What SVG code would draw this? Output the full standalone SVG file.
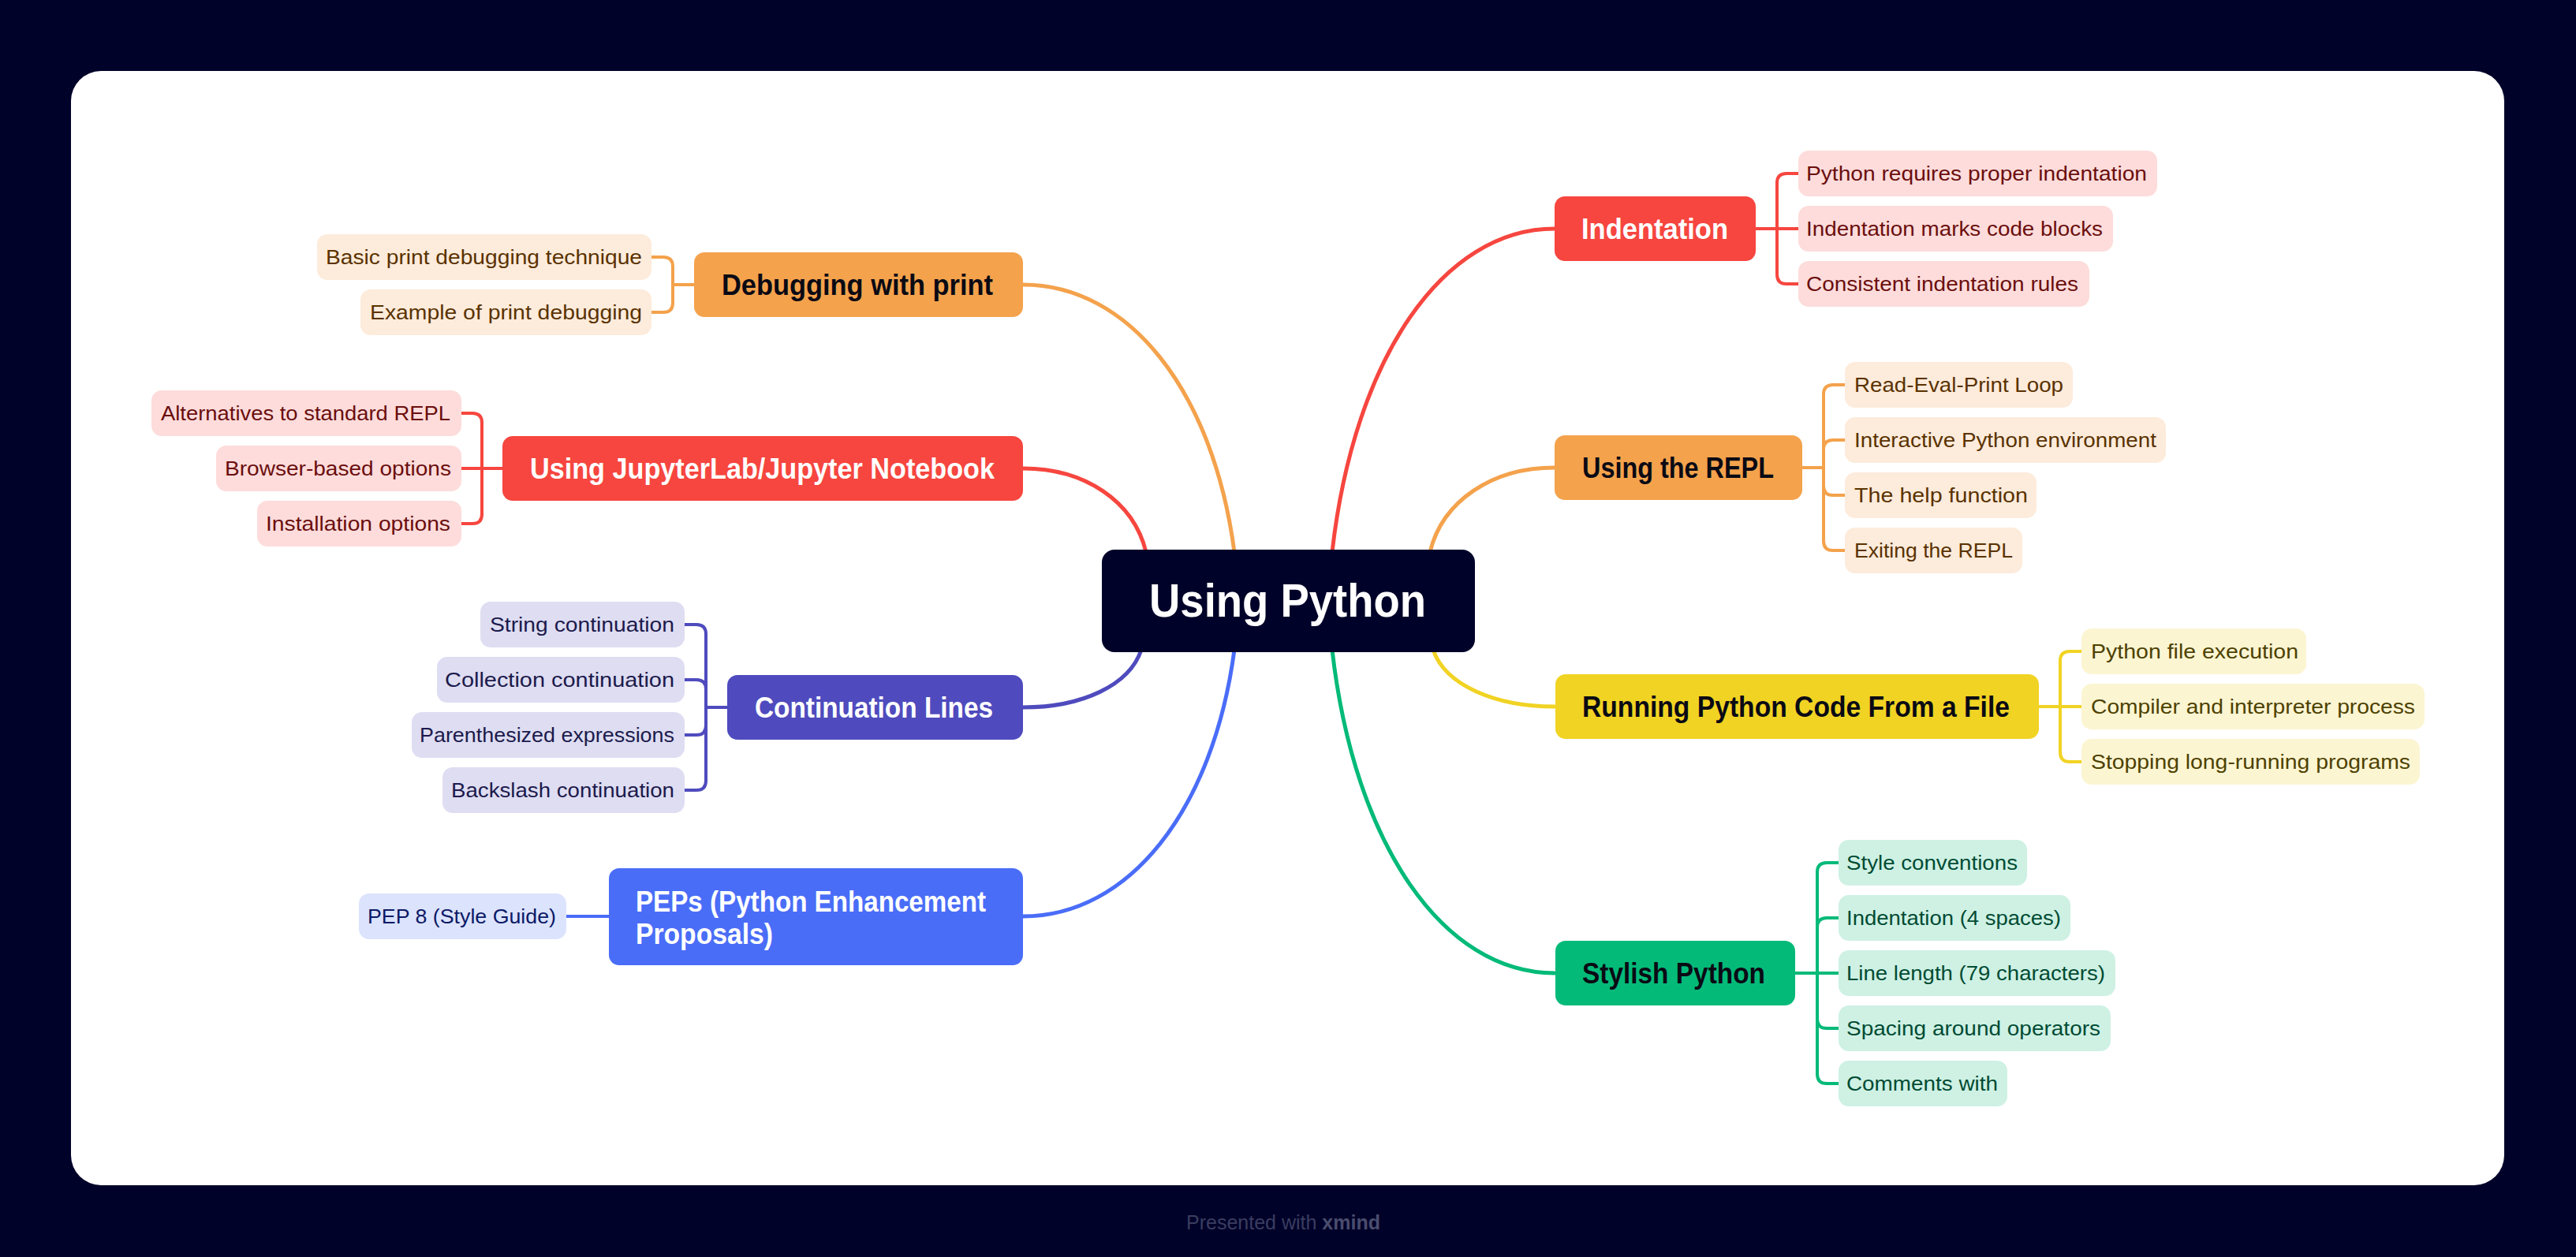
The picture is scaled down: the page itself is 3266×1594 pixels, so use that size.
<svg xmlns="http://www.w3.org/2000/svg" width="3266" height="1594" viewBox="0 0 3266 1594">
<style>
text{font-family:"Liberation Sans",Arial,sans-serif}
.sub{font-size:26px}
.main{font-size:37px;font-weight:700}
.center{font-size:59px;font-weight:700;fill:#fff}
.curve{fill:none;stroke-width:5;stroke-linecap:round}
.br{fill:none;stroke-width:4;stroke-linejoin:round}
.or{stroke:#F4A24C}.rd{stroke:#F6463F}.pu{stroke:#4F4BBE}.bl{stroke:#4A6DF8}.ye{stroke:#F1D323}.gr{stroke:#04BA79}
.s-or rect{fill:#FDEBDB}.s-or text{fill:#5A3200}
.s-rd rect{fill:#FDDCDB}.s-rd text{fill:#6B0E0E}
.s-pu rect{fill:#DEDDF2}.s-pu text{fill:#1C1A4C}
.s-bl rect{fill:#DCE3FD}.s-bl text{fill:#0B1A66}
.s-ye rect{fill:#FCF5D2}.s-ye text{fill:#4D4100}
.s-gr rect{fill:#CEF1E4}.s-gr text{fill:#004B33}
.m-or rect{fill:#F4A24C}.m-rd rect{fill:#F6463F}.m-pu rect{fill:#4F4BBE}.m-bl rect{fill:#4A6DF8}.m-ye rect{fill:#F1D323}.m-gr rect{fill:#04BA79}
.dk{fill:#0A0A14}.wh{fill:#FFFFFF}
</style>
<rect x="0" y="0" width="3266" height="1594" fill="#000229"/>
<rect x="90" y="90" width="3085" height="1413" rx="38" fill="#FFFFFF"/>

<g id="connectors">
  <path class="curve or" d="M1565 700 C1538 495 1431 361 1297 361"/>
  <path class="curve rd" d="M1453 700 C1437 635 1375 594 1297 594"/>
  <path class="curve rd" d="M1689 700 C1717 453 1830 290 1971 290"/>
  <path class="curve or" d="M1813 700 C1829 635 1892 593 1971 593"/>
  <path class="curve pu" d="M1447 824 C1432 869 1372 897 1297 897"/>
  <path class="curve bl" d="M1565 824 C1538 1028 1431 1162 1297 1162"/>
  <path class="curve gr" d="M1689 824 C1717 1071 1830 1234 1971 1234"/>
  <path class="curve ye" d="M1817 824 C1832 868 1894 896 1971 896"/>

  <!-- Debugging bracket -->
  <path class="br or" d="M880 361 H853 V338 Q853 326 841 326 H826"/>
  <path class="br or" d="M880 361 H853 V384 Q853 396 841 396 H826"/>
  <!-- Jupyter bracket -->
  <path class="br rd" d="M637 594 H611 V536 Q611 524 599 524 H585"/>
  <path class="br rd" d="M637 594 H585"/>
  <path class="br rd" d="M637 594 H611 V652 Q611 664 599 664 H585"/>
  <!-- Continuation bracket -->
  <path class="br pu" d="M922 897 H895 V804 Q895 792 883 792 H868"/>
  <path class="br pu" d="M922 897 H895 V874 Q895 862 883 862 H868"/>
  <path class="br pu" d="M922 897 H895 V920 Q895 932 883 932 H868"/>
  <path class="br pu" d="M922 897 H895 V990 Q895 1002 883 1002 H868"/>
  <!-- PEPs -->
  <path class="br bl" d="M772 1162 H718"/>
  <!-- Indentation bracket -->
  <path class="br rd" d="M2226 290 H2253 V232 Q2253 220 2265 220 H2280"/>
  <path class="br rd" d="M2226 290 H2280"/>
  <path class="br rd" d="M2226 290 H2253 V348 Q2253 360 2265 360 H2280"/>
  <!-- REPL bracket -->
  <path class="br or" d="M2285 593 H2312 V500 Q2312 488 2324 488 H2339"/>
  <path class="br or" d="M2285 593 H2312 V570 Q2312 558 2324 558 H2339"/>
  <path class="br or" d="M2285 593 H2312 V616 Q2312 628 2324 628 H2339"/>
  <path class="br or" d="M2285 593 H2312 V686 Q2312 698 2324 698 H2339"/>
  <!-- Running bracket -->
  <path class="br ye" d="M2585 896 H2612 V838 Q2612 826 2624 826 H2639"/>
  <path class="br ye" d="M2585 896 H2639"/>
  <path class="br ye" d="M2585 896 H2612 V954 Q2612 966 2624 966 H2639"/>
  <!-- Stylish bracket -->
  <path class="br gr" d="M2276 1234 H2304 V1106 Q2304 1094 2316 1094 H2331"/>
  <path class="br gr" d="M2276 1234 H2304 V1176 Q2304 1164 2316 1164 H2331"/>
  <path class="br gr" d="M2276 1234 H2331"/>
  <path class="br gr" d="M2276 1234 H2304 V1292 Q2304 1304 2316 1304 H2331"/>
  <path class="br gr" d="M2276 1234 H2304 V1362 Q2304 1374 2316 1374 H2331"/>
</g>

<g id="central">
  <rect x="1397" y="697" width="473" height="130" rx="16" fill="#000229"/>
  <text class="center" x="1457" y="782" textLength="351" lengthAdjust="spacingAndGlyphs">Using Python</text>
</g>

<!-- Main topics -->
<g id="debugging" class="m-or">
  <rect x="880" y="320" width="417" height="82" rx="13"/>
  <text class="main dk" x="915" y="374" textLength="344" lengthAdjust="spacingAndGlyphs">Debugging with print</text>
</g>
<g id="jupyter" class="m-rd">
  <rect x="637" y="553" width="660" height="82" rx="13"/>
  <text class="main wh" x="672" y="607" textLength="589" lengthAdjust="spacingAndGlyphs">Using JupyterLab/Jupyter Notebook</text>
</g>
<g id="continuation" class="m-pu">
  <rect x="922" y="856" width="375" height="82" rx="13"/>
  <text class="main wh" x="957" y="910" textLength="302" lengthAdjust="spacingAndGlyphs">Continuation Lines</text>
</g>
<g id="peps" class="m-bl">
  <rect x="772" y="1101" width="525" height="123" rx="13"/>
  <text class="main wh" x="806" y="1156" textLength="444" lengthAdjust="spacingAndGlyphs">PEPs (Python Enhancement</text>
  <text class="main wh" x="806" y="1197" textLength="174" lengthAdjust="spacingAndGlyphs">Proposals)</text>
</g>
<g id="indentation" class="m-rd">
  <rect x="1971" y="249" width="255" height="82" rx="13"/>
  <text class="main wh" x="2005" y="303" textLength="186" lengthAdjust="spacingAndGlyphs">Indentation</text>
</g>
<g id="repl" class="m-or">
  <rect x="1971" y="552" width="314" height="82" rx="13"/>
  <text class="main dk" x="2006" y="606" textLength="243" lengthAdjust="spacingAndGlyphs">Using the REPL</text>
</g>
<g id="running" class="m-ye">
  <rect x="1972" y="855" width="613" height="82" rx="13"/>
  <text class="main dk" x="2006" y="909" textLength="542" lengthAdjust="spacingAndGlyphs">Running Python Code From a File</text>
</g>
<g id="stylish" class="m-gr">
  <rect x="1972" y="1193" width="304" height="82" rx="13"/>
  <text class="main dk" x="2006" y="1247" textLength="232" lengthAdjust="spacingAndGlyphs">Stylish Python</text>
</g>

<!-- Subtopics left -->
<g id="dbg-1" class="s-or"><rect x="402" y="297" width="424" height="58" rx="13"/><text class="sub" x="413" y="335" textLength="401" lengthAdjust="spacingAndGlyphs">Basic print debugging technique</text></g>
<g id="dbg-2" class="s-or"><rect x="457" y="367" width="369" height="58" rx="13"/><text class="sub" x="469" y="405" textLength="345" lengthAdjust="spacingAndGlyphs">Example of print debugging</text></g>
<g id="jup-1" class="s-rd"><rect x="192" y="495" width="393" height="58" rx="13"/><text class="sub" x="204" y="533" textLength="367" lengthAdjust="spacingAndGlyphs">Alternatives to standard REPL</text></g>
<g id="jup-2" class="s-rd"><rect x="274" y="565" width="311" height="58" rx="13"/><text class="sub" x="285" y="603" textLength="287" lengthAdjust="spacingAndGlyphs">Browser-based options</text></g>
<g id="jup-3" class="s-rd"><rect x="326" y="635" width="259" height="58" rx="13"/><text class="sub" x="337" y="673" textLength="234" lengthAdjust="spacingAndGlyphs">Installation options</text></g>
<g id="con-1" class="s-pu"><rect x="609" y="763" width="259" height="58" rx="13"/><text class="sub" x="621" y="801" textLength="234" lengthAdjust="spacingAndGlyphs">String continuation</text></g>
<g id="con-2" class="s-pu"><rect x="554" y="833" width="314" height="58" rx="13"/><text class="sub" x="564" y="871" textLength="291" lengthAdjust="spacingAndGlyphs">Collection continuation</text></g>
<g id="con-3" class="s-pu"><rect x="522" y="903" width="346" height="58" rx="13"/><text class="sub" x="532" y="941" textLength="323" lengthAdjust="spacingAndGlyphs">Parenthesized expressions</text></g>
<g id="con-4" class="s-pu"><rect x="561" y="973" width="307" height="58" rx="13"/><text class="sub" x="572" y="1011" textLength="283" lengthAdjust="spacingAndGlyphs">Backslash continuation</text></g>
<g id="pep-1" class="s-bl"><rect x="455" y="1133" width="263" height="58" rx="13"/><text class="sub" x="466" y="1171" textLength="239" lengthAdjust="spacingAndGlyphs">PEP 8 (Style Guide)</text></g>

<!-- Subtopics right -->
<g id="ind-1" class="s-rd"><rect x="2280" y="191" width="455" height="58" rx="13"/><text class="sub" x="2290" y="229" textLength="432" lengthAdjust="spacingAndGlyphs">Python requires proper indentation</text></g>
<g id="ind-2" class="s-rd"><rect x="2280" y="261" width="399" height="58" rx="13"/><text class="sub" x="2290" y="299" textLength="376" lengthAdjust="spacingAndGlyphs">Indentation marks code blocks</text></g>
<g id="ind-3" class="s-rd"><rect x="2280" y="331" width="369" height="58" rx="13"/><text class="sub" x="2290" y="369" textLength="345" lengthAdjust="spacingAndGlyphs">Consistent indentation rules</text></g>
<g id="repl-1" class="s-or"><rect x="2339" y="459" width="289" height="58" rx="13"/><text class="sub" x="2351" y="497" textLength="265" lengthAdjust="spacingAndGlyphs">Read-Eval-Print Loop</text></g>
<g id="repl-2" class="s-or"><rect x="2339" y="529" width="407" height="58" rx="13"/><text class="sub" x="2351" y="567" textLength="383" lengthAdjust="spacingAndGlyphs">Interactive Python environment</text></g>
<g id="repl-3" class="s-or"><rect x="2339" y="599" width="243" height="58" rx="13"/><text class="sub" x="2351" y="637" textLength="220" lengthAdjust="spacingAndGlyphs">The help function</text></g>
<g id="repl-4" class="s-or"><rect x="2339" y="669" width="225" height="58" rx="13"/><text class="sub" x="2351" y="707" textLength="201" lengthAdjust="spacingAndGlyphs">Exiting the REPL</text></g>
<g id="run-1" class="s-ye"><rect x="2639" y="797" width="285" height="58" rx="13"/><text class="sub" x="2651" y="835" textLength="263" lengthAdjust="spacingAndGlyphs">Python file execution</text></g>
<g id="run-2" class="s-ye"><rect x="2639" y="867" width="435" height="58" rx="13"/><text class="sub" x="2651" y="905" textLength="411" lengthAdjust="spacingAndGlyphs">Compiler and interpreter process</text></g>
<g id="run-3" class="s-ye"><rect x="2639" y="937" width="429" height="58" rx="13"/><text class="sub" x="2651" y="975" textLength="405" lengthAdjust="spacingAndGlyphs">Stopping long-running programs</text></g>
<g id="sty-1" class="s-gr"><rect x="2331" y="1065" width="239" height="58" rx="13"/><text class="sub" x="2341" y="1103" textLength="217" lengthAdjust="spacingAndGlyphs">Style conventions</text></g>
<g id="sty-2" class="s-gr"><rect x="2331" y="1135" width="294" height="58" rx="13"/><text class="sub" x="2341" y="1173" textLength="272" lengthAdjust="spacingAndGlyphs">Indentation (4 spaces)</text></g>
<g id="sty-3" class="s-gr"><rect x="2331" y="1205" width="351" height="58" rx="13"/><text class="sub" x="2341" y="1243" textLength="328" lengthAdjust="spacingAndGlyphs">Line length (79 characters)</text></g>
<g id="sty-4" class="s-gr"><rect x="2331" y="1275" width="345" height="58" rx="13"/><text class="sub" x="2341" y="1313" textLength="322" lengthAdjust="spacingAndGlyphs">Spacing around operators</text></g>
<g id="sty-5" class="s-gr"><rect x="2331" y="1345" width="214" height="58" rx="13"/><text class="sub" x="2341" y="1383" textLength="192" lengthAdjust="spacingAndGlyphs">Comments with</text></g>

<text x="1504" y="1559" font-size="25" fill="#3A3D60">Presented with <tspan font-weight="700" fill="#4A4D6E">xmind</tspan></text>
</svg>
